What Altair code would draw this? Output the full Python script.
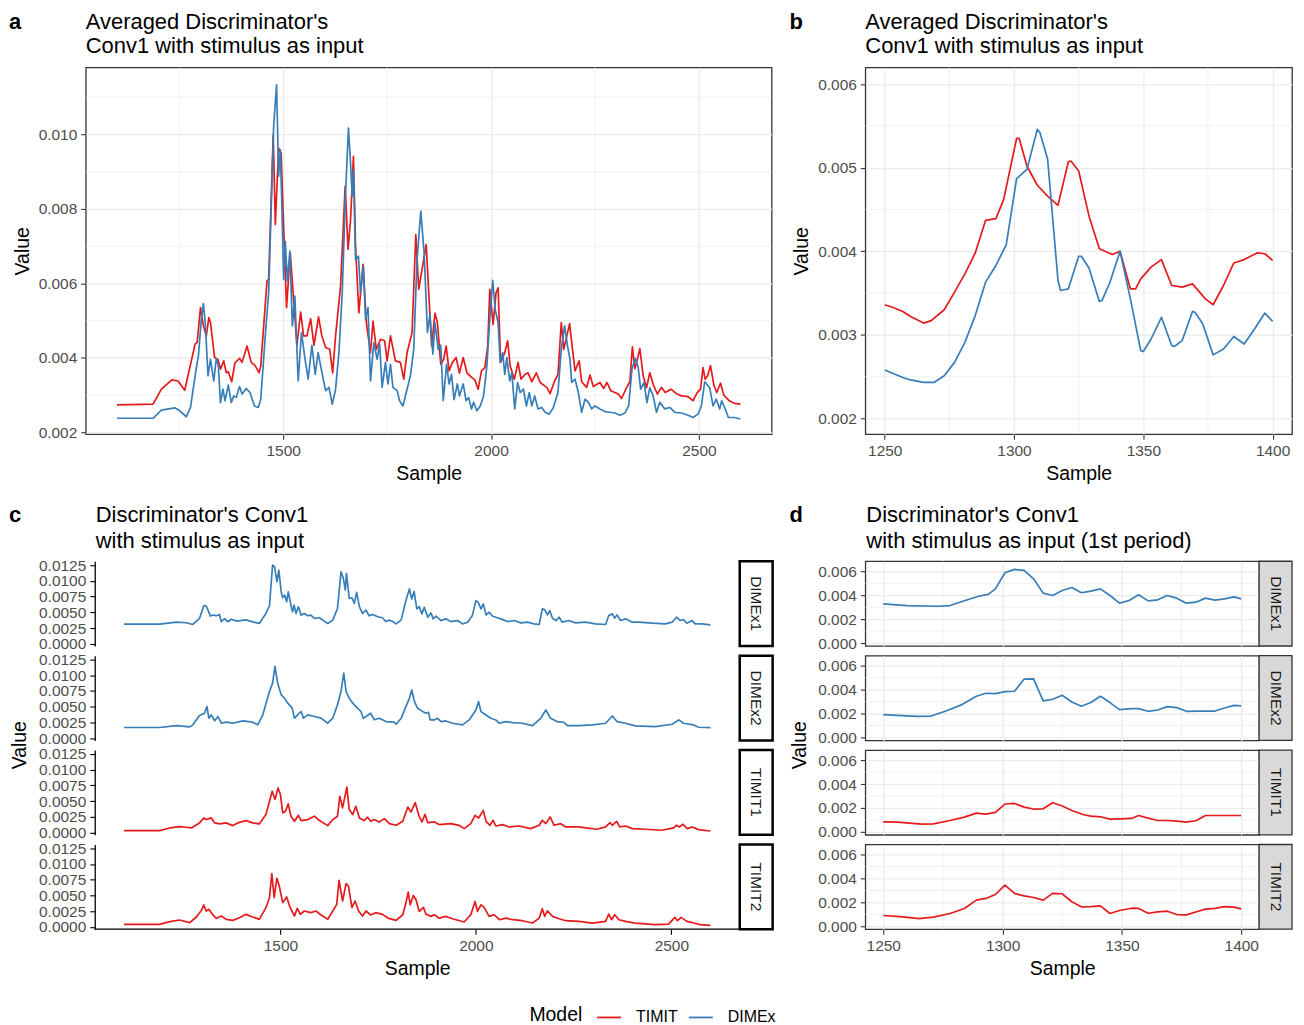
import altair as alt
import pandas as pd

FONT = "Liberation Sans"
RED, BLUE = "#E41A1C", "#377EB8"
MODELS = ["TIMIT", "DIMEx"]

TITLE_A = ["Averaged Discriminator's", "Conv1 with stimulus as input"]
TITLE_B = ["Averaged Discriminator's", "Conv1 with stimulus as input"]
TITLE_C = ["Discriminator's Conv1", "with stimulus as input"]
TITLE_D = ["Discriminator's Conv1", "with stimulus as input (1st period)"]
RUNS = ["DIMEx1", "DIMEx2", "TIMIT1", "TIMIT2"]
RUN_MODEL = ["DIMEx", "DIMEx", "TIMIT", "TIMIT"]

# ---------------- panel a (averaged, full range) ----------------
A_TIMIT = [(1100,0.00274),(1187,0.00276),(1207,0.00316),(1232,0.00341),(1247,0.00338),(1263,0.00313),(1288,0.00437),(1293,0.00441),(1301,0.00535),(1308,0.00486),(1315,0.00459),(1321,0.00508),(1325,0.00495),(1335,0.00401),(1343,0.00396),(1349,0.00370),(1357,0.00392),(1363,0.00360),(1368,0.00363),(1376,0.00336),(1384,0.00387),(1395,0.00399),(1401,0.00388),(1413,0.00432),(1423,0.00388),(1432,0.00380),(1442,0.00360),(1446,0.00379),(1461,0.00606),(1465,0.00611),(1476,0.00999),(1481,0.00758),(1489,0.00963),(1495,0.00950),(1501,0.00754),(1508,0.00535),(1517,0.00682),(1525,0.00557),(1533,0.00434),(1542,0.00523),(1549,0.00459),(1557,0.00459),(1566,0.00505),(1574,0.00434),(1585,0.00510),(1593,0.00459),(1602,0.00428),(1612,0.00423),(1619,0.00360),(1626,0.00459),(1638,0.00593),(1649,0.00861),(1656,0.00691),(1662,0.00771),(1669,0.00941),(1674,0.00700),(1682,0.00521),(1692,0.00651),(1700,0.00495),(1710,0.00414),(1716,0.00499),(1724,0.00423),(1734,0.00450),(1744,0.00446),(1750,0.00392),(1758,0.00459),(1770,0.00392),(1782,0.00388),(1790,0.00343),(1798,0.00414),(1810,0.00468),(1819,0.00731),(1826,0.00584),(1844,0.00704),(1851,0.00557),(1857,0.00432),(1865,0.00520),(1871,0.00495),(1879,0.00383),(1886,0.00396),(1892,0.00432),(1899,0.00365),(1907,0.00388),(1916,0.00401),(1924,0.00359),(1933,0.00401),(1942,0.00360),(1954,0.00347),(1961,0.00341),(1969,0.00316),(1977,0.00365),(1985,0.00374),(1992,0.00432),(1997,0.00584),(2005,0.00490),(2012,0.00575),(2017,0.00588),(2023,0.00388),(2033,0.00414),(2040,0.00446),(2046,0.00379),(2056,0.00343),(2065,0.00388),(2072,0.00343),(2082,0.00356),(2089,0.00360),(2098,0.00336),(2109,0.00360),(2118,0.00334),(2134,0.00321),(2142,0.00304),(2153,0.00338),(2161,0.00356),(2169,0.00495),(2175,0.00423),(2182,0.00457),(2189,0.00492),(2196,0.00423),(2202,0.00365),(2212,0.00392),(2218,0.00336),(2230,0.00321),(2238,0.00354),(2246,0.00323),(2262,0.00334),(2271,0.00318),(2279,0.00334),(2288,0.00312),(2306,0.00303),(2314,0.00291),(2326,0.00320),(2334,0.00336),(2340,0.00430),(2346,0.00371),(2352,0.00396),(2358,0.00425),(2366,0.00352),(2374,0.00320),(2382,0.00360),(2390,0.00329),(2400,0.00303),(2410,0.00321),(2419,0.00307),(2433,0.00316),(2446,0.00304),(2458,0.00298),(2474,0.00296),(2486,0.00285),(2496,0.00307),(2504,0.00316),(2510,0.00374),(2515,0.00343),(2521,0.00352),(2528,0.00379),(2536,0.00327),(2543,0.00307),(2552,0.00332),(2560,0.00300),(2573,0.00285),(2585,0.00278),(2600,0.00276)]

A_DIMEX = [(1100,0.00238),(1187,0.00238),(1207,0.00260),(1239,0.00266),(1251,0.00258),(1267,0.00242),(1277,0.00267),(1291,0.00374),(1296,0.00405),(1303,0.00504),(1308,0.00546),(1313,0.00486),(1319,0.00352),(1325,0.00396),(1333,0.00338),(1339,0.00398),(1344,0.00379),(1349,0.00280),(1355,0.00316),(1360,0.00285),(1368,0.00327),(1375,0.00280),(1381,0.00298),(1387,0.00294),(1395,0.00323),(1401,0.00303),(1411,0.00318),(1420,0.00307),(1431,0.00271),(1440,0.00267),(1446,0.00289),(1458,0.00477),(1465,0.00575),(1477,0.01021),(1484,0.01133),(1489,0.00888),(1493,0.00959),(1496,0.00843),(1501,0.00611),(1505,0.00713),(1510,0.00606),(1516,0.00687),(1522,0.00486),(1528,0.00566),(1536,0.00338),(1544,0.00468),(1552,0.00401),(1560,0.00343),(1569,0.00434),(1577,0.00356),(1584,0.00414),(1594,0.00356),(1602,0.00312),(1610,0.00321),(1618,0.00276),(1626,0.00316),(1634,0.00414),(1642,0.00575),(1650,0.00843),(1657,0.01017),(1662,0.00923),(1666,0.00834),(1669,0.00905),(1674,0.00664),(1681,0.00673),(1686,0.00575),(1693,0.00646),(1698,0.00504),(1704,0.00535),(1710,0.00338),(1718,0.00441),(1726,0.00396),(1732,0.00437),(1738,0.00321),(1746,0.00388),(1752,0.00330),(1758,0.00383),(1764,0.00321),(1774,0.00312),(1780,0.00285),(1788,0.00271),(1796,0.00307),(1806,0.00352),(1814,0.00423),(1822,0.00664),(1831,0.00794),(1839,0.00682),(1847,0.00468),(1853,0.00517),(1860,0.00410),(1865,0.00495),(1873,0.00423),(1879,0.00434),(1885,0.00285),(1893,0.00383),(1899,0.00330),(1905,0.00356),(1911,0.00288),(1919,0.00330),(1924,0.00298),(1933,0.00330),(1940,0.00285),(1946,0.00294),(1953,0.00263),(1958,0.00281),(1966,0.00258),(1974,0.00271),(1982,0.00298),(1990,0.00379),(1997,0.00504),(2004,0.00608),(2010,0.00530),(2017,0.00495),(2022,0.00388),(2028,0.00414),(2033,0.00356),(2038,0.00401),(2045,0.00338),(2050,0.00360),(2057,0.00263),(2064,0.00334),(2070,0.00307),(2078,0.00316),(2085,0.00271),(2092,0.00307),(2098,0.00271),(2105,0.00298),(2113,0.00263),(2122,0.00267),(2130,0.00254),(2140,0.00249),(2150,0.00267),(2161,0.00307),(2169,0.00423),(2177,0.00486),(2184,0.00432),(2190,0.00396),(2194,0.00334),(2202,0.00343),(2210,0.00307),(2218,0.00254),(2226,0.00289),(2234,0.00281),(2242,0.00263),(2250,0.00271),(2262,0.00263),(2274,0.00256),(2286,0.00254),(2298,0.00252),(2310,0.00246),(2322,0.00252),(2331,0.00271),(2339,0.00370),(2347,0.00399),(2354,0.00374),(2360,0.00316),(2368,0.00334),(2375,0.00280),(2382,0.00320),(2390,0.00298),(2398,0.00254),(2406,0.00281),(2418,0.00263),(2430,0.00267),(2442,0.00254),(2458,0.00252),(2474,0.00246),(2486,0.00240),(2498,0.00249),(2506,0.00271),(2514,0.00336),(2526,0.00320),(2534,0.00271),(2542,0.00289),(2550,0.00263),(2555,0.00285),(2565,0.00258),(2571,0.00240),(2585,0.00240),(2600,0.00236)]

# ---------------- panel b (averaged, 1250-1400) ----------------
B_TIMIT = [(1250,0.00336),(1253,0.00333),(1257,0.00328),(1260,0.00322),(1265,0.00314),(1268,0.00317),(1273,0.00330),(1277,0.00351),(1281,0.00373),(1285,0.00398),(1289,0.00437),(1293,0.00439),(1296,0.00462),(1301,0.00535),(1302,0.00535),(1305,0.00502),(1309,0.00479),(1313,0.00466),(1317,0.00455),(1321,0.00507),(1322,0.00508),(1325,0.00496),(1329,0.00442),(1333,0.00403),(1338,0.00396),(1341,0.00400),(1345,0.00355),(1347,0.00355),(1349,0.00367),(1353,0.00381),(1357,0.00390),(1361,0.00359),(1365,0.00357),(1369,0.00361),(1374,0.00343),(1377,0.00336),(1381,0.00359),(1385,0.00386),(1389,0.00390),(1394,0.00398),(1397,0.00397),(1400,0.00389)]

B_DIMEX = [(1250,0.00258),(1257,0.00249),(1260,0.00246),(1265,0.00243),(1269,0.00243),(1273,0.00251),(1277,0.00267),(1281,0.00291),(1285,0.00323),(1289,0.00363),(1293,0.00383),(1297,0.00408),(1301,0.00487),(1305,0.00498),(1309,0.00546),(1310,0.00542),(1313,0.00510),(1317,0.00365),(1318,0.00353),(1321,0.00355),(1325,0.00394),(1326,0.00394),(1329,0.00380),(1333,0.00340),(1334,0.00341),(1337,0.00362),(1341,0.00400),(1345,0.00343),(1349,0.00281),(1350,0.00280),(1353,0.00295),(1357,0.00321),(1361,0.00287),(1362,0.00286),(1365,0.00293),(1369,0.00328),(1370,0.00327),(1373,0.00313),(1377,0.00276),(1381,0.00283),(1385,0.00298),(1389,0.00289),(1393,0.00307),(1397,0.00326),(1400,0.00316)]

# ---------------- panel c (individual runs, full range) ----------------
C_DIMEX1 = [(1100,0.00312),(1191,0.00312),(1234,0.00344),(1259,0.00334),(1276,0.00307),(1293,0.00403),(1304,0.00604),(1310,0.00604),(1321,0.00440),(1327,0.00456),(1337,0.00445),(1344,0.00466),(1349,0.00350),(1357,0.00400),(1366,0.00350),(1374,0.00390),(1389,0.00360),(1412,0.00380),(1434,0.00340),(1446,0.00323),(1463,0.00482),(1472,0.00604),(1480,0.01250),(1485,0.01223),(1491,0.00985),(1496,0.01170),(1502,0.00826),(1506,0.00731),(1511,0.00773),(1516,0.00667),(1520,0.00826),(1526,0.00641),(1531,0.00508),(1535,0.00614),(1540,0.00482),(1546,0.00588),(1553,0.00455),(1561,0.00480),(1570,0.00445),(1578,0.00455),(1587,0.00402),(1600,0.00413),(1612,0.00360),(1621,0.00323),(1634,0.00376),(1646,0.00561),(1655,0.01144),(1661,0.01038),(1666,0.00853),(1669,0.01118),(1676,0.00720),(1683,0.00731),(1689,0.00641),(1695,0.00816),(1702,0.00588),(1710,0.00482),(1719,0.00535),(1727,0.00445),(1736,0.00466),(1749,0.00430),(1761,0.00413),(1770,0.00353),(1778,0.00376),(1787,0.00353),(1796,0.00316),(1809,0.00380),(1821,0.00686),(1830,0.00870),(1836,0.00712),(1842,0.00828),(1849,0.00554),(1855,0.00591),(1862,0.00475),(1868,0.00580),(1877,0.00422),(1885,0.00490),(1891,0.00396),(1898,0.00438),(1911,0.00369),(1923,0.00396),(1936,0.00353),(1953,0.00369),(1966,0.00316),(1979,0.00343),(1991,0.00448),(2000,0.00686),(2006,0.00659),(2013,0.00554),(2019,0.00633),(2026,0.00459),(2034,0.00501),(2043,0.00438),(2051,0.00422),(2064,0.00396),(2081,0.00353),(2098,0.00369),(2115,0.00332),(2132,0.00343),(2149,0.00316),(2162,0.00306),(2170,0.00554),(2176,0.00543),(2183,0.00459),(2189,0.00528),(2196,0.00406),(2205,0.00369),(2213,0.00422),(2221,0.00343),(2238,0.00369),(2255,0.00332),(2281,0.00343),(2306,0.00316),(2332,0.00306),(2340,0.00448),(2349,0.00475),(2355,0.00406),(2361,0.00459),(2370,0.00369),(2383,0.00396),(2400,0.00343),(2417,0.00343),(2451,0.00327),(2485,0.00316),(2502,0.00343),(2513,0.00422),(2523,0.00369),(2531,0.00385),(2540,0.00327),(2553,0.00369),(2561,0.00316),(2578,0.00316),(2600,0.00300)]

C_DIMEX2 = [(1100,0.00170),(1191,0.00170),(1234,0.00201),(1268,0.00180),(1276,0.00212),(1293,0.00360),(1306,0.00397),(1312,0.00503),(1317,0.00318),(1323,0.00371),(1332,0.00275),(1340,0.00344),(1349,0.00238),(1361,0.00254),(1378,0.00238),(1404,0.00275),(1429,0.00254),(1442,0.00212),(1455,0.00371),(1472,0.00742),(1480,0.00874),(1486,0.01139),(1493,0.00874),(1502,0.00689),(1510,0.00636),(1519,0.00556),(1530,0.00477),(1536,0.00318),(1544,0.00371),(1553,0.00424),(1559,0.00318),(1570,0.00371),(1587,0.00344),(1604,0.00318),(1621,0.00238),(1634,0.00318),(1646,0.00530),(1655,0.00742),(1662,0.01033),(1668,0.00742),(1676,0.00636),(1685,0.00556),(1697,0.00477),(1706,0.00424),(1712,0.00318),(1719,0.00344),(1731,0.00397),(1740,0.00292),(1753,0.00316),(1770,0.00264),(1791,0.00254),(1796,0.00222),(1809,0.00316),(1821,0.00501),(1830,0.00633),(1836,0.00765),(1843,0.00580),(1851,0.00475),(1864,0.00422),(1872,0.00396),(1879,0.00411),(1883,0.00290),(1894,0.00290),(1902,0.00316),(1911,0.00264),(1923,0.00274),(1940,0.00237),(1966,0.00211),(1983,0.00290),(2000,0.00448),(2007,0.00580),(2013,0.00422),(2026,0.00369),(2038,0.00316),(2051,0.00290),(2060,0.00237),(2077,0.00264),(2094,0.00248),(2119,0.00237),(2145,0.00200),(2166,0.00316),(2179,0.00448),(2191,0.00316),(2208,0.00264),(2225,0.00253),(2234,0.00200),(2264,0.00200),(2298,0.00211),(2332,0.00237),(2349,0.00353),(2361,0.00264),(2383,0.00237),(2408,0.00195),(2459,0.00185),(2502,0.00222),(2519,0.00290),(2531,0.00237),(2557,0.00211),(2570,0.00174),(2600,0.00169)]

C_TIMIT1 = [(1100,0.00032),(1191,0.00032),(1217,0.00074),(1242,0.00095),(1259,0.00085),(1272,0.00074),(1293,0.00154),(1304,0.00233),(1310,0.00207),(1323,0.00233),(1332,0.00154),(1344,0.00138),(1361,0.00154),(1378,0.00111),(1391,0.00154),(1412,0.00191),(1429,0.00154),(1446,0.00138),(1463,0.00286),(1479,0.00657),(1486,0.00525),(1494,0.00709),(1500,0.00604),(1506,0.00312),(1513,0.00339),(1520,0.00456),(1527,0.00260),(1536,0.00180),(1546,0.00275),(1553,0.00191),(1570,0.00207),(1587,0.00260),(1600,0.00191),(1621,0.00111),(1634,0.00207),(1646,0.00260),(1652,0.00577),(1659,0.00392),(1670,0.00721),(1676,0.00365),(1685,0.00286),(1693,0.00418),(1702,0.00233),(1714,0.00191),(1723,0.00244),(1731,0.00180),(1740,0.00207),(1753,0.00169),(1766,0.00222),(1779,0.00142),(1796,0.00116),(1813,0.00179),(1826,0.00406),(1834,0.00327),(1845,0.00475),(1854,0.00274),(1862,0.00169),(1870,0.00290),(1877,0.00158),(1894,0.00169),(1906,0.00127),(1936,0.00142),(1957,0.00116),(1970,0.00063),(1987,0.00142),(1998,0.00274),(2007,0.00232),(2019,0.00353),(2026,0.00179),(2036,0.00116),(2044,0.00195),(2051,0.00105),(2068,0.00127),(2085,0.00090),(2111,0.00105),(2140,0.00063),(2162,0.00116),(2170,0.00195),(2179,0.00142),(2190,0.00248),(2200,0.00116),(2217,0.00142),(2230,0.00090),(2264,0.00090),(2281,0.00074),(2310,0.00053),(2332,0.00090),(2343,0.00158),(2349,0.00116),(2360,0.00179),(2368,0.00090),(2383,0.00105),(2400,0.00063),(2434,0.00053),(2476,0.00037),(2506,0.00074),(2513,0.00116),(2520,0.00090),(2530,0.00132),(2541,0.00063),(2553,0.00090),(2570,0.00047),(2600,0.00026)]

C_TIMIT2 = [(1100,0.00042),(1191,0.00042),(1217,0.00085),(1242,0.00111),(1268,0.00069),(1285,0.00159),(1298,0.00265),(1304,0.00350),(1310,0.00254),(1317,0.00281),(1326,0.00201),(1336,0.00138),(1349,0.00175),(1361,0.00122),(1378,0.00106),(1395,0.00148),(1412,0.00201),(1429,0.00159),(1446,0.00122),(1463,0.00307),(1472,0.00466),(1478,0.00847),(1484,0.00466),(1491,0.00773),(1497,0.00651),(1506,0.00387),(1516,0.00477),(1525,0.00307),(1536,0.00175),(1543,0.00297),(1551,0.00201),(1561,0.00254),(1578,0.00228),(1591,0.00254),(1604,0.00191),(1621,0.00122),(1634,0.00254),(1644,0.00360),(1650,0.00742),(1659,0.00413),(1668,0.00689),(1674,0.00651),(1683,0.00307),(1691,0.00413),(1700,0.00254),(1710,0.00175),(1719,0.00254),(1731,0.00191),(1744,0.00228),(1761,0.00201),(1775,0.00142),(1796,0.00105),(1813,0.00195),(1821,0.00380),(1827,0.00554),(1832,0.00353),(1840,0.00501),(1847,0.00432),(1855,0.00248),(1866,0.00311),(1872,0.00206),(1885,0.00169),(1894,0.00195),(1906,0.00142),(1923,0.00169),(1940,0.00132),(1970,0.00079),(1987,0.00195),(1998,0.00406),(2004,0.00248),(2013,0.00353),(2021,0.00311),(2034,0.00169),(2047,0.00195),(2060,0.00116),(2077,0.00142),(2094,0.00116),(2119,0.00100),(2145,0.00063),(2162,0.00142),(2170,0.00290),(2176,0.00169),(2183,0.00258),(2196,0.00169),(2213,0.00132),(2230,0.00100),(2264,0.00090),(2298,0.00063),(2332,0.00090),(2340,0.00206),(2347,0.00116),(2355,0.00195),(2366,0.00116),(2383,0.00090),(2408,0.00063),(2459,0.00037),(2493,0.00047),(2509,0.00153),(2516,0.00100),(2525,0.00153),(2540,0.00090),(2557,0.00063),(2574,0.00037),(2600,0.00026)]

# ---------------- panel d (individual runs, 1250-1400) ----------------
D_DIMEX1 = [(1250,0.00328),(1260,0.00314),(1273,0.00308),(1278,0.00314),(1283,0.00348),(1290,0.00392),(1294,0.00407),(1297,0.00454),(1301,0.00589),(1305,0.00617),(1309,0.00608),(1313,0.00538),(1317,0.00418),(1321,0.00398),(1325,0.00440),(1329,0.00465),(1333,0.00421),(1337,0.00435),(1341,0.00454),(1345,0.00398),(1349,0.00334),(1353,0.00356),(1357,0.00404),(1361,0.00353),(1365,0.00362),(1369,0.00398),(1373,0.00376),(1377,0.00334),(1381,0.00342),(1385,0.00376),(1389,0.00359),(1393,0.00370),(1397,0.00387),(1400,0.00370)]

D_DIMEX2 = [(1250,0.00191),(1264,0.00177),(1270,0.00179),(1276,0.00219),(1283,0.00275),(1289,0.00345),(1293,0.00370),(1297,0.00367),(1301,0.00384),(1305,0.00387),(1309,0.00488),(1313,0.00491),(1317,0.00306),(1321,0.00320),(1325,0.00353),(1329,0.00297),(1333,0.00261),(1337,0.00292),(1341,0.00345),(1345,0.00292),(1349,0.00233),(1354,0.00241),(1357,0.00241),(1361,0.00219),(1365,0.00230),(1369,0.00258),(1373,0.00250),(1377,0.00219),(1382,0.00221),(1389,0.00221),(1393,0.00247),(1397,0.00269),(1400,0.00264)]

D_TIMIT1 = [(1250,0.00084),(1256,0.00081),(1266,0.00064),(1271,0.00067),(1278,0.00095),(1284,0.00123),(1289,0.00157),(1293,0.00149),(1297,0.00163),(1301,0.00233),(1305,0.00238),(1309,0.00207),(1313,0.00191),(1317,0.00193),(1321,0.00244),(1325,0.00216),(1329,0.00179),(1334,0.00143),(1337,0.00132),(1341,0.00126),(1345,0.00107),(1349,0.00109),(1354,0.00112),(1357,0.00137),(1361,0.00115),(1365,0.00095),(1369,0.00095),(1373,0.00090),(1377,0.00081),(1381,0.00093),(1385,0.00137),(1390,0.00137),(1396,0.00137),(1400,0.00137)]

D_TIMIT2 = [(1250,0.00090),(1257,0.00081),(1265,0.00064),(1271,0.00076),(1278,0.00107),(1284,0.00149),(1289,0.00219),(1293,0.00233),(1297,0.00266),(1301,0.00345),(1305,0.00275),(1309,0.00255),(1313,0.00241),(1317,0.00219),(1321,0.00275),(1325,0.00272),(1329,0.00205),(1333,0.00163),(1337,0.00165),(1341,0.00171),(1345,0.00107),(1349,0.00132),(1354,0.00151),(1357,0.00149),(1361,0.00109),(1365,0.00121),(1369,0.00126),(1373,0.00098),(1377,0.00095),(1382,0.00126),(1385,0.00143),(1389,0.00149),(1393,0.00165),(1397,0.00160),(1400,0.00146)]

# tick / grid values
A_XTICKS = [1500, 2000, 2500]
A_XMINOR = [1250, 1750, 2250]
A_YTICKS = [0.002, 0.004, 0.006, 0.008, 0.010]
A_YMINOR = [0.003, 0.005, 0.007, 0.009, 0.011]
B_XTICKS = [1250, 1300, 1350, 1400]
B_XMINOR = [1275, 1325, 1375]
B_YTICKS = [0.002, 0.003, 0.004, 0.005, 0.006]
B_YMINOR = [0.0025, 0.0035, 0.0045, 0.0055]
C_YTICKS = [0.0, 0.0025, 0.005, 0.0075, 0.01, 0.0125]
D_YTICKS = [0.0, 0.002, 0.004, 0.006]
D_YMINOR = [0.001, 0.003, 0.005]


def frame(pairs, model):
    return pd.DataFrame({"Sample": [p[0] for p in pairs],
                         "Value": [p[1] for p in pairs],
                         "Model": model})


LEG = alt.Legend(title="Model", orient="none", legendX=445, legendY=940,
                 direction="horizontal", titleOrient="left",
                 titleAnchor="middle", titleBaseline="middle",
                 symbolType="stroke", symbolSize=576, symbolStrokeWidth=1.8,
                 labelFont=FONT, labelFontSize=16, labelColor="black",
                 titleFont=FONT, titleFontSize=19.5, titleFontWeight="normal",
                 titleColor="black", labelOffset=14, columnPadding=7,
                 titlePadding=13)
COLOR = alt.Color("Model:N", scale=alt.Scale(domain=MODELS, range=[RED, BLUE]),
                  legend=LEG)

BW = dict(grid=True, gridColor="#EBEBEB", gridWidth=1.3, domain=False,
          tickColor="#333333", tickSize=5, tickWidth=1.1,
          labelFont=FONT, labelFontSize=15.5, labelColor="#4D4D4D", labelPadding=4,
          titleFont=FONT, titleFontSize=19.5, titleFontWeight="normal",
          titleColor="black")
CL = dict(grid=False, tickColor="black", tickSize=5, tickWidth=1.1,
          labelFont=FONT, labelFontSize=15.5, labelColor="#4D4D4D", labelPadding=4,
          titleFont=FONT, titleFontSize=19.5, titleFontWeight="normal",
          titleColor="black")

BW_VIEW = alt.ViewBackground(stroke="#333333", strokeWidth=1.3)
NO_VIEW = alt.ViewBackground(stroke="transparent")


def text_layer(txt, x, y, size, bold=False, angle=0, align="left",
               baseline="alphabetic"):
    return alt.Chart(pd.DataFrame({"t": [txt]})).mark_text(
        align=align, baseline=baseline, fontSize=size, font=FONT,
        fontWeight="bold" if bold else "normal", color="black", angle=angle
    ).encode(text="t:N", x=alt.value(x), y=alt.value(y))


def strip_layer(label, x0, x1, h, fill, stroke, sw):
    d = pd.DataFrame({"Run": [label]})
    rect = alt.Chart(d).mark_rect(fill=fill, stroke=stroke, strokeWidth=sw).encode(
        x=alt.value(x0), x2=alt.value(x1), y=alt.value(0), y2=alt.value(h))
    txt = alt.Chart(d).mark_text(angle=90, fontSize=15.5, font=FONT, color="#1A1A1A",
                                 align="center", baseline="middle").encode(
        text="Run:N", x=alt.value((x0 + x1) / 2), y=alt.value(h / 2))
    return [rect, txt]


def vgrid(vals, X):
    return alt.Chart(pd.DataFrame({"Sample": vals})).mark_rule(
        color="#EBEBEB", strokeWidth=0.7).encode(x=X)


def hgrid(vals, Y):
    return alt.Chart(pd.DataFrame({"Value": vals})).mark_rule(
        color="#EBEBEB", strokeWidth=0.7).encode(y=Y)


def lines(df, X, Y):
    return alt.Chart(df).mark_line(strokeWidth=1.7, strokeJoin="round").encode(
        x=X, y=Y, color=COLOR)


# ---------------- panel a ----------------
Xa = alt.X("Sample:Q", scale=alt.Scale(domain=[1025, 2675], nice=False, zero=False),
           axis=alt.Axis(values=A_XTICKS, format="d", title="Sample", titlePadding=6, **BW))
Ya = alt.Y("Value:Q", scale=alt.Scale(domain=[0.00195, 0.0118], nice=False, zero=False),
           axis=alt.Axis(values=A_YTICKS, format=".3f", title="Value", titlePadding=6, **BW))
df_a = pd.concat([frame(A_TIMIT, "TIMIT"), frame(A_DIMEX, "DIMEx")])
panel_a = alt.layer(
    vgrid(A_XMINOR, Xa), hgrid(A_YMINOR, Ya), lines(df_a, Xa, Ya),
    text_layer("a", -77, -39, 22, bold=True),
    text_layer(TITLE_A[0], 0, -39, 22), text_layer(TITLE_A[1], 0, -14.3, 22),
).properties(width=688, height=368, view=BW_VIEW)

# ---------------- panel b ----------------
Xb = alt.X("Sample:Q", scale=alt.Scale(domain=[1242.5, 1407.5], nice=False, zero=False),
           axis=alt.Axis(values=B_XTICKS, format="d", title="Sample", titlePadding=6, **BW))
Yb = alt.Y("Value:Q", scale=alt.Scale(domain=[0.00181, 0.0062], nice=False, zero=False),
           axis=alt.Axis(values=B_YTICKS, format=".3f", title="Value", titlePadding=6, **BW))
df_b = pd.concat([frame(B_TIMIT, "TIMIT"), frame(B_DIMEX, "DIMEx")])
panel_b = alt.layer(
    vgrid(B_XMINOR, Xb), hgrid(B_YMINOR, Yb), lines(df_b, Xb, Yb),
    text_layer("b", -76, -39, 22, bold=True),
    text_layer(TITLE_B[0], 0, -39, 22), text_layer(TITLE_B[1], 0, -14.3, 22),
).properties(width=428, height=368, view=BW_VIEW)

# ---------------- panel c ----------------
C_DATA = [C_DIMEX1, C_DIMEX2, C_TIMIT1, C_TIMIT2]
C_W, C_H, C_OFF = 656, 85, 9
ROW_GAP = 9.7
c_rows = []
for i, (pairs, run, model) in enumerate(zip(C_DATA, RUNS, RUN_MODEL)):
    last = i == 3
    if last:
        xax = alt.Axis(values=A_XTICKS, format="d", title="Sample", titlePadding=6,
                       titleX=(C_OFF + C_W) / 2, domain=False, **CL)
    else:
        xax = alt.Axis(labels=False, ticks=False, domain=False, grid=False, title="")
    X = alt.X("Sample:Q", scale=alt.Scale(domain=[1025, 2675], range=[C_OFF, C_W],
                                          nice=False, zero=False), axis=xax)
    Y = alt.Y("Value:Q", scale=alt.Scale(domain=[-0.00035, 0.0131], nice=False, zero=False),
              axis=alt.Axis(values=C_YTICKS, format=".4f", title="", offset=-C_OFF,
                            domain=True, domainColor="black", domainWidth=1.3, **CL))
    layers = [lines(frame(pairs, model), X, Y)]
    layers += strip_layer(run, C_W, C_W + 33, C_H, "white", "black", 2.5)
    if last:
        layers.append(alt.Chart(pd.DataFrame({"k": [0]})).mark_rule(
            color="black", strokeWidth=1.3).encode(
            x=alt.value(C_OFF), x2=alt.value(C_W), y=alt.value(C_H)))
    if i == 0:
        layers += [text_layer("c", -77, -39, 22, bold=True),
                   text_layer(TITLE_C[0], 10, -39, 22),
                   text_layer(TITLE_C[1], 10, -13.5, 22)]
    if i == 1:
        layers.append(text_layer("Value", -66, C_H + ROW_GAP / 2, 19.5, angle=270,
                                 align="center", baseline="middle"))
    c_rows.append(alt.layer(*layers).properties(width=C_W, height=C_H, view=NO_VIEW))

# ---------------- panel d ----------------
D_DATA = [D_DIMEX1, D_DIMEX2, D_TIMIT1, D_TIMIT2]
D_W, D_H = 395, 85
d_rows = []
for i, (pairs, run, model) in enumerate(zip(D_DATA, RUNS, RUN_MODEL)):
    last = i == 3
    if last:
        xax = alt.Axis(values=B_XTICKS, format="d", title="Sample", titlePadding=6, **BW)
    else:
        xax = alt.Axis(values=B_XTICKS, labels=False, ticks=False, domain=False,
                       grid=True, gridColor="#EBEBEB", gridWidth=1.3, title="")
    X = alt.X("Sample:Q", scale=alt.Scale(domain=[1242.5, 1407.5], nice=False, zero=False),
              axis=xax)
    Y = alt.Y("Value:Q", scale=alt.Scale(domain=[-0.00025, 0.00685], nice=False, zero=False),
              axis=alt.Axis(values=D_YTICKS, format=".3f", title="", **BW))
    layers = [vgrid(B_XMINOR, X), hgrid(D_YMINOR, Y), lines(frame(pairs, model), X, Y)]
    layers += strip_layer(run, D_W, D_W + 33, D_H, "#D9D9D9", "#333333", 1.3)
    if i == 0:
        layers += [text_layer("d", -76, -39, 22, bold=True),
                   text_layer(TITLE_D[0], 1, -39, 22),
                   text_layer(TITLE_D[1], 1, -13.5, 22)]
    if i == 1:
        layers.append(text_layer("Value", -66, D_H + ROW_GAP / 2, 19.5, angle=270,
                                 align="center", baseline="middle"))
    d_rows.append(alt.layer(*layers).properties(width=D_W, height=D_H, view=BW_VIEW))


def spacer(h):
    return alt.Chart(pd.DataFrame({"k": [0]})).mark_point(opacity=0).encode(
        x=alt.value(0), y=alt.value(0)).properties(width=1, height=h, view=NO_VIEW)


cells = [panel_a, panel_b, spacer(107.6), spacer(107.6)]
for cr, dr in zip(c_rows, d_rows):
    cells += [cr, dr]

chart = alt.concat(*cells, columns=2, spacing={"row": ROW_GAP, "column": 94},
                   bounds="flush", align="each").properties(
    padding={"left": 0, "top": 0, "right": 2, "bottom": 0}
).configure(font=FONT, background="white")

chart.save("out.html", embed_options={"renderer": "svg", "actions": False})
